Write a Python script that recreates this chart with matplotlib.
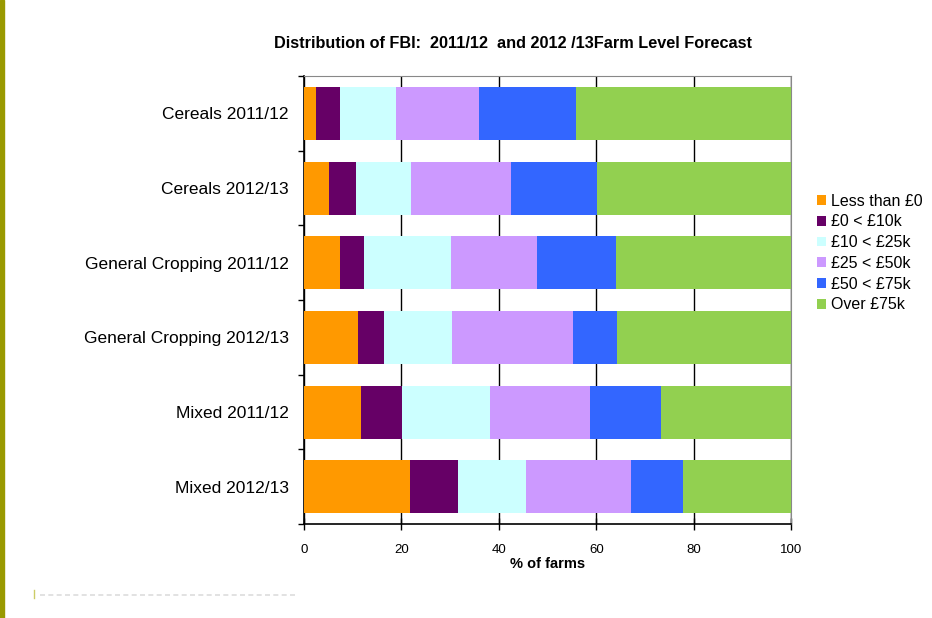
import numpy as np
import matplotlib
matplotlib.use('Agg')
import matplotlib.pyplot as plt
from matplotlib.patches import Rectangle
from matplotlib.lines import Line2D

plt.rcParams['font.family'] = ['Liberation Sans', 'DejaVu Sans']

# Datos (% de granjas por categoria)
categories = ["Cereals 2011/12", "Cereals 2012/13", "General Cropping 2011/12",
              "General Cropping 2012/13", "Mixed 2011/12", "Mixed 2012/13"]
bands = ["Less than £0", "£0 < £10k", "£10 < £25k", "£25 < £50k", "£50 < £75k", "Over £75k"]
less_0 = [2.5, 5.2, 7.5, 11.1, 11.8, 21.7]
b0_10 = [5.0, 5.5, 4.8, 5.3, 8.3, 9.9]
b10_25 = [11.4, 11.3, 17.8, 13.9, 18.1, 14.0]
b25_50 = [17.0, 20.6, 17.7, 24.9, 20.6, 21.5]
b50_75 = [19.9, 17.6, 16.3, 9.1, 14.4, 10.7]
over_75 = [44.2, 39.8, 35.9, 35.7, 26.8, 22.2]
colors = ["#ff9900", "#660066", "#ccffff", "#cc99ff", "#3366ff", "#92d050"]

series = [less_0, b0_10, b10_25, b25_50, b50_75, over_75]

fig = plt.figure(figsize=(9.32, 6.18), dpi=100)
ax = fig.add_axes([0.326, 0.152, 0.523, 0.725])

y = np.arange(len(categories))
left = np.zeros(len(categories))
for vals, name, c in zip(series, bands, colors):
    ax.barh(y, vals, left=left, height=0.71, color=c, label=name, zorder=3)
    left += np.array(vals)

ax.set_xlim(0, 100)
ax.set_ylim(len(categories) - 0.5, -0.5)
ax.set_xticks([0, 20, 40, 60, 80, 100])
ax.set_yticks(y)
ax.set_yticklabels(categories, fontsize=12.5)
ax.set_yticks(np.arange(-0.5, len(categories)), minor=True)
ax.tick_params(axis='y', which='major', length=0, pad=11)
ax.tick_params(axis='y', which='minor', length=4, direction='out', width=1)
ax.tick_params(axis='x', labelsize=9.5, direction='inout', length=8, width=1, pad=10)
ax.grid(axis='x', color='black', linewidth=1, zorder=1)
ax.set_xlabel("% of farms", fontsize=10.5, fontweight='bold', labelpad=1)

for side in ['top', 'right']:
    ax.spines[side].set_color('#888888')
for side in ['left', 'bottom']:
    ax.spines[side].set_color('black')
    ax.spines[side].set_linewidth(1.2)

fig.text(0.550, 0.930, "Distribution of FBI:  2011/12  and 2012 /13Farm Level Forecast",
         ha='center', va='center', fontsize=11.7, fontweight='bold')

ax.legend(loc='upper left', bbox_to_anchor=(0.870, 0.697), bbox_transform=fig.transFigure,
          frameon=False, fontsize=11.5, handlelength=0.55, handleheight=0.55,
          handletextpad=0.3, labelspacing=0.36, borderaxespad=0)

# barra lateral y pie
fig.patches.append(Rectangle((0, 0), 0.004, 1, transform=fig.transFigure,
                             color='#999900', zorder=5))
fig.lines.append(Line2D([0.043, 0.32], [0.038, 0.038], transform=fig.transFigure,
                        color='#dddddd', linewidth=1.2, linestyle=(0, (3, 2))))
fig.lines.append(Line2D([0.036, 0.036], [0.032, 0.045], transform=fig.transFigure,
                        color='#cccc66', linewidth=1))

fig.savefig('out.png', dpi=100)
